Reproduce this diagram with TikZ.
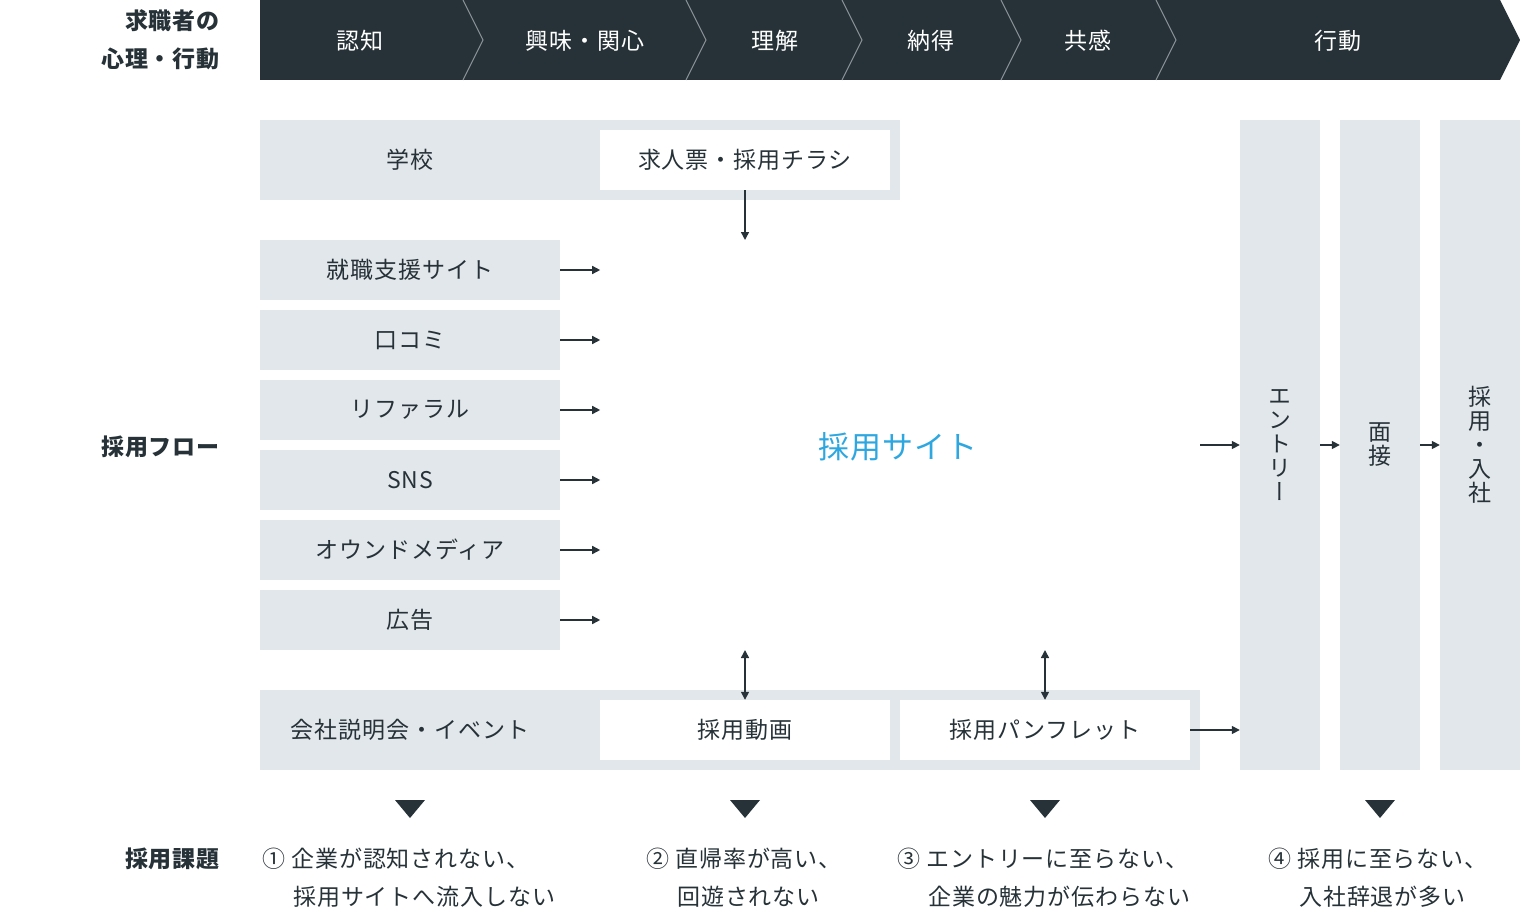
\documentclass[tikz,border=0pt]{standalone}
\usepackage{fontspec}
\setmainfont{Noto Sans CJK JP}[LetterSpace=4]
\newfontfamily\vertfont[RawFeature=+vert]{Noto Sans CJK JP}
\usepackage{tikz}
\usetikzlibrary{arrows.meta}
\definecolor{ink}{HTML}{263238}
\definecolor{pale}{HTML}{E2E7EB}
\definecolor{sky}{HTML}{2EA7E0}
\definecolor{seam}{HTML}{8C9499}
\tikzstyle{txt} = [text=ink, inner sep=0, font=\fontsize{23}{26}\selectfont]
\tikzstyle{box} = [txt, rectangle, minimum width=300, minimum height=60, text centered, fill=pale]
\tikzstyle{card} = [txt, rectangle, minimum width=290, minimum height=60, text centered, fill=white]
\tikzstyle{pillar} = [txt, rectangle, minimum width=80, minimum height=650, align=center, fill=pale, font=\vertfont\fontsize{23}{24}\selectfont]
\tikzstyle{stage} = [txt, text=white]
\tikzstyle{side} = [txt, anchor=east, align=right, font=\bfseries\fontsize{23}{38}\selectfont]
\tikzstyle{issue} = [txt, anchor=north west, align=left, font=\fontsize{23}{38}\selectfont]
\tikzstyle{arrow} = [line width=1.5pt, draw=ink, -{Triangle[length=8pt,width=8pt]}]
\tikzstyle{both} = [line width=1.5pt, draw=ink, {Triangle[length=8pt,width=8pt]}-{Triangle[length=8pt,width=8pt]}]

\begin{document}
\begin{tikzpicture}[x=1pt, y=-1pt, node distance=70]
		\useasboundingbox (0,0) rectangle (1520,915);
		% top bar
		\fill[ink] (260,0) -- (1500,0) -- (1520,40) -- (1500,80) -- (260,80) -- cycle;
		\foreach \x in {463,686,842,1001,1156}
			\draw[seam, line width=1pt] (\x,0) -- (\x+20,40) -- (\x,80);
		\node[stage] (ninchi) at (360,41) {認知};
		\node[stage] (kyomi) at (585,41) {興味・関心};
		\node[stage] (rikai) at (775,41) {理解};
		\node[stage] (nattoku) at (931,41) {納得};
		\node[stage] (kyokan) at (1088,41) {共感};
		\node[stage] (kodo) at (1338,41) {行動};
		\node[side] (mind) at (220,40) {求職者の\\心理・行動};
		\node[side] (flow) at (220,447) {採用フロー};
		\node[side] (task) at (220,859) {採用課題};

		% school group
		\node[box, minimum width=640, minimum height=80] (school) at (580,160) {};
		\node[txt] (gakko) at (410,160) {学校};
		\node[card] (flyer) at (745,160) {求人票・採用チラシ};
		\coordinate (flyerend) at (745,240);
		\draw[arrow] (flyer.south) -- (flyerend);

		% channels
		\node[box] (jobsite) at (410,270) {就職支援サイト};
		\node[box, below of = jobsite] (kuchikomi) {口コミ};
		\node[box, below of = kuchikomi] (referral) {リファラル};
		\node[box, below of = referral] (sns) {SNS};
		\node[box, below of = sns] (owned) {オウンドメディア};
		\node[box, below of = owned] (ad) {広告};
		\foreach \n in {jobsite,kuchikomi,referral,sns,owned,ad}
			\draw[arrow] (\n.east) -- ++(40,0);

		\node[txt, text=sky, font=\fontsize{31}{34}\selectfont] (site) at (898,447) {採用サイト};

		% event group
		\node[box, minimum width=940, minimum height=80] (event) at (730,730) {};
		\node[txt] (setsumei) at (410,730) {会社説明会・イベント};
		\node[card] (movie) at (745,730) {採用動画};
		\node[card] (pamph) at (1045,730) {採用パンフレット};
		\coordinate (movietop) at (745,650);
		\coordinate (pamphtop) at (1045,650);
		\draw[both] (movietop) -- (movie.north);
		\draw[both] (pamphtop) -- (pamph.north);

		% selection steps
		\node[pillar] (entry) at (1280,445) {エ\\ン\\ト\\リ\\ー};
		\node[pillar] (mensetsu) at (1380,445) {面\\接};
		\node[pillar] (nyusha) at (1480,445) {採\\用\\・\\入\\社};
		\coordinate (siteout) at (1200,445);
		\draw[arrow] (siteout) -- (entry.west);
		\draw[arrow] (entry.east) -- (mensetsu.west);
		\draw[arrow] (mensetsu.east) -- (nyusha.west);
		\draw[arrow] (pamph.east) -- (pamph.east -| entry.west);

		% issues
		\foreach \x in {410,745,1045,1380}
			\fill[ink] (\x-15,800) -- (\x+15,800) -- (\x,818) -- cycle;
		\node[issue] (issue1) at (262,848) {① 企業が認知されない、\\\hspace*{31pt}採用サイトへ流入しない};
		\node[issue] (issue2) at (646,848) {② 直帰率が高い、\\\hspace*{31pt}回遊されない};
		\node[issue] (issue3) at (897,848) {③ エントリーに至らない、\\\hspace*{31pt}企業の魅力が伝わらない};
		\node[issue] (issue4) at (1268,848) {④ 採用に至らない、\\\hspace*{31pt}入社辞退が多い};
	\end{tikzpicture}
\end{document}
